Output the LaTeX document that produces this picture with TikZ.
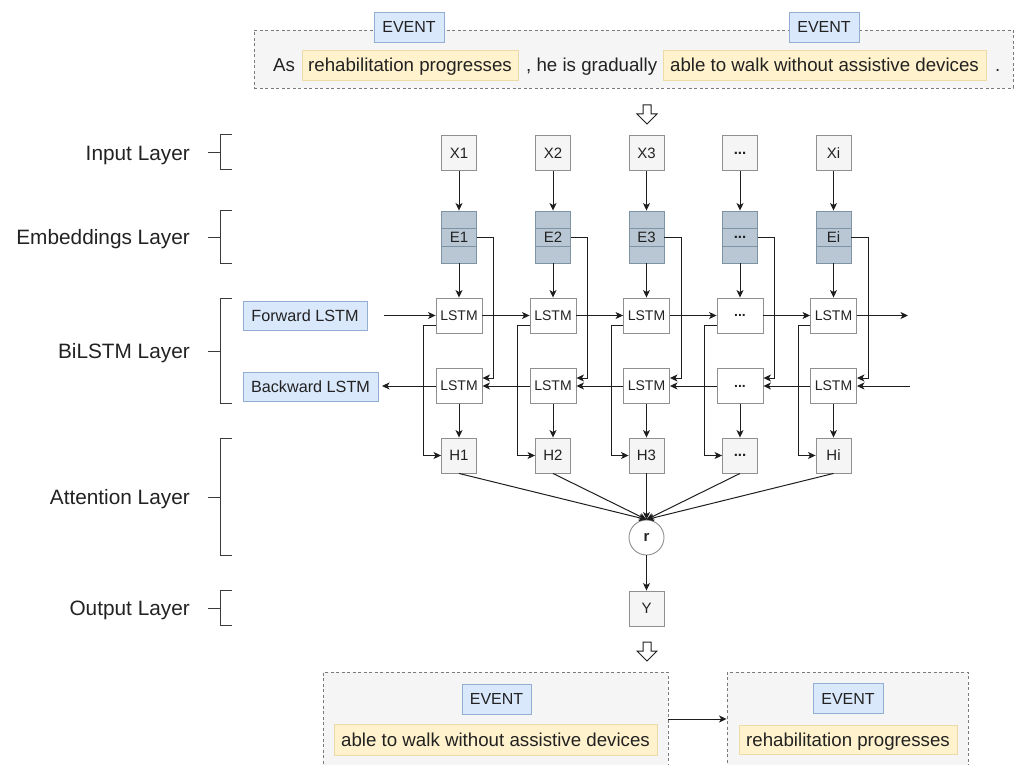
\documentclass[tikz,border=0pt]{standalone}
\usepackage{fontspec}
\setmainfont{Liberation Sans}
\usetikzlibrary{arrows.meta}
\definecolor{txtc}{HTML}{222222}
\definecolor{linec}{HTML}{1E1E1E}
\definecolor{gfill}{HTML}{F5F5F5}
\definecolor{gbord}{HTML}{8F8F8F}
\definecolor{efill}{HTML}{B8C7D3}
\definecolor{ebord}{HTML}{7E93A3}
\definecolor{bfill}{HTML}{DAE8FC}
\definecolor{bbord}{HTML}{93AED3}
\definecolor{yfill}{HTML}{FFF2CC}
\definecolor{ybord}{HTML}{EADBA8}
\definecolor{cbord}{HTML}{7A7A7A}
\definecolor{brkc}{HTML}{3A3A3A}
\newcommand\fsz[1]{\fontsize{#1}{#1}\selectfont}
\newcommand\dotsl{\textbf{...}}
\tikzset{harrow/.pic={\draw[draw=linec,fill=white,line width=1pt,line join=miter] (-4,0) -- (4,0) -- (4,9) -- (10,9) -- (0,19) -- (-10,9) -- (-4,9) -- cycle;}}
\begin{document}
\begin{tikzpicture}[x=1pt,y=-1pt,
 arr/.style={draw=linec,line width=1pt,-{Stealth[length=7.5pt,width=7pt,inset=2pt]}},
 brk/.style={draw=brkc,line width=1pt},
 gbox/.style={draw=gbord,fill=gfill,line width=0.9pt,minimum width=35pt,minimum height=35pt,inner sep=0pt,text=txtc,font=\fsz{15}},
 ebox/.style={draw=ebord,fill=efill,line width=0.9pt,minimum width=35pt,minimum height=52pt,inner sep=0pt,text=txtc,font=\fsz{15}},
 stripe/.style={draw=ebord,line width=0.8pt},
 lbox/.style={draw=gbord,fill=white,line width=0.9pt,minimum width=46pt,minimum height=35pt,inner sep=0pt,text=txtc,font=\fsz{14}},
 tag/.style={draw=bbord,fill=bfill,line width=0.9pt,minimum height=30pt,inner sep=0pt,text=txtc,font=\fsz{16}},
 hl/.style={draw=ybord,fill=yfill,line width=0.9pt,minimum height=30pt,inner sep=0pt,text=txtc,font=\fsz{18.7},text height=14pt,text depth=1pt},
 sent/.style={inner sep=0pt,text=txtc,font=\fsz{18.7},text height=14pt,text depth=1pt},
 lay/.style={inner sep=0pt,text=txtc,font=\fsz{20.8},text height=15pt,text depth=0.8pt},
 cont/.style={draw=cbord,fill=gfill,line width=0.9pt,dash pattern=on 3pt off 2.5pt,inner sep=0pt}
]
\useasboundingbox (0,0) rectangle (1018,765);
\clip (0,0) rectangle (1018,765);

% top sentence
\node[cont,minimum width=759pt,minimum height=58pt] (topbox) at (633.5,59) {};
\node[tag,minimum width=70pt] (ev1) at (409,27) {EVENT};
\node[tag,minimum width=70pt] (ev2) at (824,27) {EVENT};
\node[sent,anchor=west] (w1) at (273,65) {As};
\node[hl,minimum width=216pt] (y1) at (410,65) {rehabilitation progresses};
\node[sent,anchor=west] (w2) at (526,65) {, he is gradually};
\node[hl,minimum width=323pt] (y2) at (824.5,65) {able to walk without assistive devices};
\node[sent,anchor=west] (w3) at (995,65) {.};
\pic at (647,105) {harrow};

% layer labels and brackets
\foreach \nm/\lab/\cy/\t/\b in {in/Input Layer/153/135/170, emb/Embeddings Layer/237/210/263, bil/BiLSTM Layer/351/298/403, att/Attention Layer/497/438/555, out/Output Layer/608/590/625}{
  \node[lay,anchor=east] (L\nm) at (190,\cy) {\lab};
  \draw[brk] (208,\cy) -- (220,\cy);
  \draw[brk] (232,\t) -- (220,\t) -- (220,\b) -- (232,\b);
}

% direction labels
\node[tag,font=\fsz{16.2},minimum width=124pt,minimum height=29pt] (fwd) at (305,315.5) {Forward LSTM};
\node[tag,font=\fsz{16.2},minimum width=135pt,minimum height=29pt] (bwd) at (310.5,386.5) {Backward LSTM};

% attention and output
\node[circle,draw=gbord,fill=white,line width=0.9pt,minimum size=35pt,inner sep=0pt,font=\fsz{15}\bfseries,text=txtc] (r) at (646.5,537.5) {r};
\node[gbox] (Y) at (646.5,608.5) {Y};
\draw[arr] (r.south) -- (Y.north);

% columns
\foreach \i/\x/\xl/\el/\fl/\hl in {1/459/X1/E1/LSTM/H1, 2/553/X2/E2/LSTM/H2, 3/646.5/X3/E3/LSTM/H3, 4/740/\dotsl/\dotsl/\dotsl/\dotsl, 5/833.5/Xi/Ei/LSTM/Hi}{
  \node[gbox] (X\i) at (\x,153) {\xl};
  \node[ebox] (E\i) at (\x,237) {\el};
  \draw[stripe] ([yshift=-18pt]E\i.north west) -- ([yshift=-18pt]E\i.north east);
  \draw[stripe] ([yshift=17pt]E\i.south west) -- ([yshift=17pt]E\i.south east);
  \node[lbox] (F\i) at (\x,315.5) {\fl};
  \node[lbox] (B\i) at (\x,386) {\fl};
  \node[gbox] (H\i) at (\x,455.5) {\hl};
  \draw[arr] (X\i.south) -- (E\i.north);
  \draw[arr] (E\i.south) -- (F\i.north);
  \draw[arr] (B\i.south) -- (H\i.north);
  \draw[arr] (E\i.east) -- ++(17,0) |- ([yshift=8pt]B\i.east);
  \draw[arr] ([yshift=-9.5pt]F\i.west) -- ++(-12,0) |- (H\i.west);
  \draw[arr] (H\i.south) -- (r.north);
}
\foreach \i/\j in {1/2,2/3,3/4,4/5}{
  \draw[arr] (F\i.east) -- (F\j.west);
  \draw[arr] (B\j.west) -- (B\i.east);
}
\coordinate (fs) at (384,315.5);
\coordinate (be) at (382,386);
\coordinate (fe) at (908,315.5);
\coordinate (bs) at (910,386);
\draw[arr] (fs) -- (F1.west);
\draw[arr] (B1.west) -- (be);
\draw[arr] (F5.east) -- (fe);
\draw[arr] (bs) -- (B5.east);

% output sentence
\pic at (647,642) {harrow};
\node[cont,minimum width=345pt,minimum height=118pt] (LB) at (495.5,731) {};
\node[cont,minimum width=241pt,minimum height=118pt] (RB) at (847.5,731) {};
\node[tag,minimum width=69pt] (ev3) at (496.5,699) {EVENT};
\node[hl,minimum width=323pt,minimum height=31pt] (y3) at (495.5,739.5) {able to walk without assistive devices};
\node[tag,minimum width=70pt] (ev4) at (848,698.5) {EVENT};
\node[hl,minimum width=218pt,minimum height=29pt] (y4) at (848,739.5) {rehabilitation progresses};
\draw[arr] ([yshift=12pt]LB.east) -- ([yshift=12pt]RB.west);
\end{tikzpicture}
\end{document}
